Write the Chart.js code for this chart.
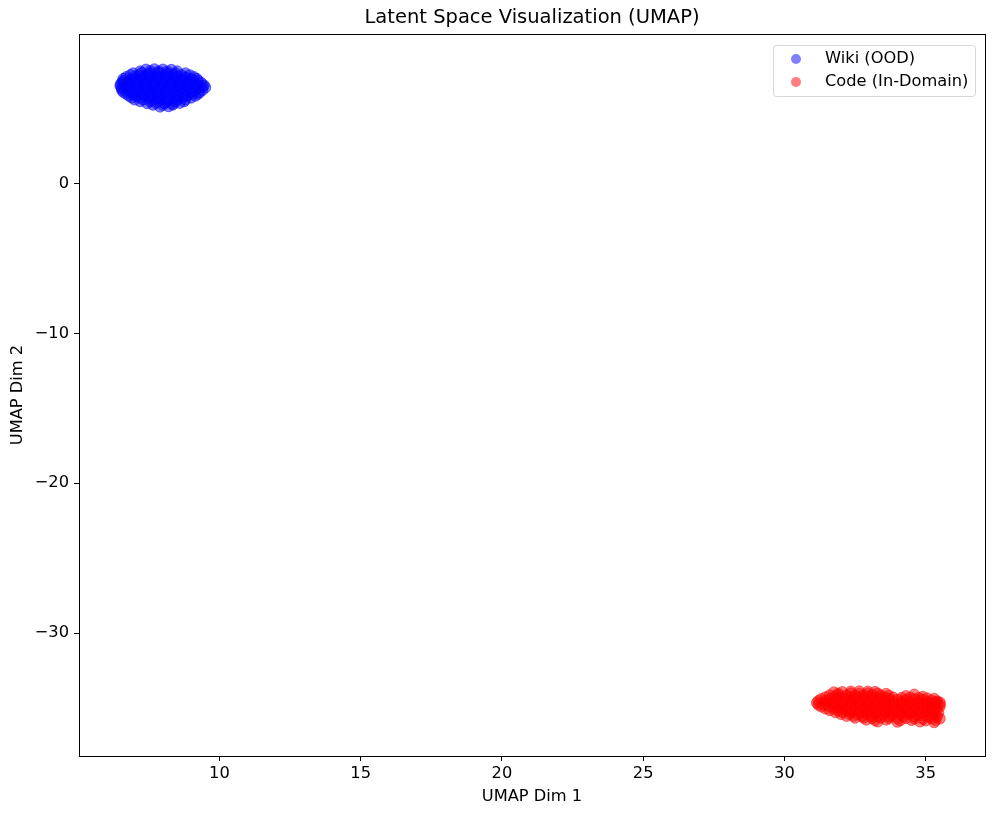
<!DOCTYPE html>
<html>
<head>
<meta charset="utf-8">
<script src="https://cdn.jsdelivr.net/npm/chart.js@4.4.1/dist/chart.umd.min.js"></script>
<style>
  html, body { margin: 0; padding: 0; background: #fff; }
  #wrap { width: 997px; height: 817px; }
</style>
</head>
<body>
<div id="wrap"><canvas id="umapChart"></canvas></div>
<script>
// Series names
const SERIES = ['Wiki (OOD)', 'Code (In-Domain)'];

// Wiki cluster (x, y)
const wikiPoints = [
    [7.4, 7.6], [7.7, 7.62], [8.0, 7.6], [8.3, 7.58],
    [7.2, 7.48], [7.55, 7.5], [7.85, 7.48], [8.15, 7.47], [8.5, 7.48],
    [6.95, 7.35], [7.25, 7.37], [7.55, 7.35], [7.85, 7.38], [8.15, 7.35], [8.45, 7.33], [8.8, 7.35],
    [6.85, 7.23], [7.15, 7.22], [7.45, 7.24], [7.75, 7.23], [8.05, 7.22], [8.35, 7.24], [8.65, 7.23], [8.95, 7.22],
    [6.7, 7.1], [7.0, 7.12], [7.3, 7.1], [7.6, 7.08], [7.9, 7.1], [8.2, 7.12], [8.5, 7.1], [8.8, 7.08], [9.1, 7.1],
    [6.6, 6.98], [6.9, 6.97], [7.2, 6.99], [7.5, 6.98], [7.8, 6.97], [8.1, 6.98], [8.4, 6.99], [8.7, 6.98], [9.0, 6.97], [9.2, 6.98],
    [6.6, 6.85], [6.85, 6.87], [7.15, 6.85], [7.45, 6.83], [7.75, 6.85], [8.05, 6.87], [8.35, 6.85], [8.65, 6.83], [8.95, 6.85], [9.25, 6.85],
    [6.55, 6.73], [6.75, 6.72], [7.05, 6.74], [7.35, 6.73], [7.65, 6.72], [7.95, 6.74], [8.25, 6.73], [8.55, 6.72], [8.85, 6.74], [9.1, 6.73], [9.35, 6.72],
    [6.5, 6.6], [6.8, 6.6], [7.1, 6.62], [7.4, 6.6], [7.7, 6.58], [8.0, 6.6], [8.3, 6.62], [8.6, 6.6], [8.9, 6.58], [9.2, 6.6], [9.45, 6.55],
    [6.5, 6.48], [6.7, 6.47], [7.0, 6.49], [7.3, 6.48], [7.6, 6.47], [7.9, 6.48], [8.2, 6.49], [8.5, 6.48], [8.8, 6.47], [9.1, 6.48], [9.4, 6.48],
    [6.55, 6.35], [6.85, 6.35], [7.15, 6.37], [7.45, 6.35], [7.75, 6.33], [8.05, 6.35], [8.35, 6.37], [8.65, 6.35], [8.95, 6.33], [9.25, 6.35], [9.5, 6.4],
    [6.55, 6.23], [6.75, 6.22], [7.05, 6.24], [7.35, 6.23], [7.65, 6.22], [7.95, 6.24], [8.25, 6.23], [8.55, 6.22], [8.85, 6.24], [9.15, 6.23], [9.4, 6.22],
    [6.6, 6.1], [6.9, 6.1], [7.2, 6.12], [7.5, 6.1], [7.8, 6.08], [8.1, 6.1], [8.4, 6.12], [8.7, 6.1], [9.0, 6.08], [9.3, 6.1],
    [6.7, 5.98], [6.95, 5.97], [7.25, 5.99], [7.55, 5.98], [7.85, 5.97], [8.15, 5.98], [8.45, 5.99], [8.75, 5.98], [9.05, 5.97], [9.25, 5.98],
    [6.8, 5.85], [7.05, 5.85], [7.35, 5.87], [7.65, 5.85], [7.95, 5.83], [8.25, 5.85], [8.55, 5.87], [8.85, 5.85], [9.15, 5.85],
    [6.9, 5.73], [7.2, 5.72], [7.5, 5.74], [7.8, 5.73], [8.1, 5.72], [8.4, 5.74], [8.7, 5.73], [9.0, 5.72],
    [7.0, 5.6], [7.3, 5.6], [7.6, 5.62], [7.9, 5.6], [8.2, 5.58], [8.5, 5.6], [8.8, 5.6],
    [7.2, 5.48], [7.55, 5.47], [7.85, 5.49], [8.15, 5.48], [8.45, 5.47], [8.75, 5.48],
    [7.45, 5.35], [7.75, 5.37], [8.05, 5.35], [8.35, 5.33], [8.6, 5.37],
    [7.65, 5.25], [8.0, 5.24], [8.35, 5.25],
    [7.9, 5.12], [8.2, 5.15]
];

// Code cluster (x, y)
const codePoints = [
    [31.75, -33.95], [32.05, -33.93], [32.35, -33.9], [32.65, -33.88], [32.95, -33.9], [33.2, -33.92],
    [31.9, -34.03], [32.35, -34.02], [32.65, -34.04], [32.95, -34.03], [33.3, -34.02], [33.6, -34.05], [34.6, -34.1],
    [31.6, -34.15], [31.9, -34.13], [32.2, -34.15], [32.5, -34.17], [32.8, -34.15], [33.1, -34.13], [33.4, -34.15], [33.7, -34.18], [34.3, -34.2], [34.9, -34.25],
    [31.45, -34.28], [31.75, -34.27], [32.05, -34.29], [32.35, -34.28], [32.65, -34.27], [32.95, -34.28], [33.25, -34.29], [33.55, -34.28], [33.85, -34.3], [34.15, -34.32], [34.45, -34.3], [34.75, -34.33], [35.05, -34.35], [35.3, -34.38],
    [31.3, -34.4], [31.6, -34.4], [31.9, -34.42], [32.2, -34.4], [32.5, -34.38], [32.8, -34.4], [33.1, -34.42], [33.4, -34.4], [33.7, -34.4], [34.0, -34.45], [34.3, -34.45], [34.6, -34.42], [34.9, -34.45], [35.2, -34.5], [35.4, -34.55],
    [31.2, -34.53], [31.45, -34.52], [31.75, -34.54], [32.05, -34.53], [32.35, -34.52], [32.65, -34.54], [32.95, -34.53], [33.25, -34.52], [33.55, -34.54], [33.85, -34.55], [34.15, -34.57], [34.45, -34.55], [34.75, -34.57], [35.05, -34.58], [35.35, -34.6], [35.5, -34.62],
    [31.15, -34.65], [31.45, -34.65], [31.75, -34.67], [32.05, -34.65], [32.35, -34.63], [32.65, -34.65], [32.95, -34.67], [33.25, -34.65], [33.55, -34.65], [33.85, -34.68], [34.15, -34.7], [34.45, -34.68], [34.75, -34.7], [35.05, -34.72], [35.35, -34.7], [35.5, -34.75],
    [31.2, -34.78], [31.45, -34.77], [31.75, -34.79], [32.05, -34.78], [32.35, -34.77], [32.65, -34.79], [32.95, -34.78], [33.25, -34.77], [33.55, -34.79], [33.85, -34.8], [34.15, -34.82], [34.45, -34.8], [34.75, -34.82], [35.05, -34.83], [35.35, -34.82],
    [31.3, -34.9], [31.6, -34.9], [31.9, -34.92], [32.2, -34.9], [32.5, -34.88], [32.8, -34.9], [33.1, -34.92], [33.4, -34.9], [33.7, -34.92], [34.0, -34.95], [34.3, -34.95], [34.6, -34.92], [34.9, -34.95], [35.2, -34.95], [35.5, -34.9],
    [31.45, -35.03], [31.75, -35.02], [32.05, -35.04], [32.35, -35.03], [32.65, -35.02], [32.95, -35.04], [33.25, -35.03], [33.55, -35.02], [33.85, -35.05], [34.15, -35.07], [34.45, -35.05], [34.75, -35.07], [35.05, -35.08], [35.4, -35.05],
    [31.6, -35.15], [31.9, -35.15], [32.2, -35.17], [32.5, -35.15], [32.8, -35.13], [33.1, -35.15], [33.4, -35.17], [33.7, -35.15], [34.0, -35.2], [34.3, -35.18], [34.6, -35.2], [35.0, -35.2], [35.3, -35.15],
    [31.8, -35.28], [32.05, -35.27], [32.35, -35.29], [32.65, -35.28], [32.95, -35.27], [33.25, -35.29], [33.55, -35.3], [33.85, -35.32], [34.15, -35.3], [34.45, -35.32], [34.8, -35.33], [35.15, -35.3], [35.45, -35.32],
    [32.0, -35.4], [32.3, -35.4], [32.6, -35.42], [32.9, -35.4], [33.2, -35.38], [33.5, -35.45], [33.8, -35.45], [34.1, -35.42], [34.4, -35.4], [34.7, -35.45], [35.0, -35.45], [35.3, -35.45],
    [32.2, -35.53], [32.45, -35.52], [32.75, -35.54], [33.05, -35.53], [33.3, -35.55], [33.7, -35.57], [34.2, -35.55], [34.6, -35.57], [35.1, -35.58], [35.4, -35.56],
    [32.5, -35.65], [32.8, -35.65], [33.1, -35.67], [33.4, -35.65], [33.7, -35.68], [34.0, -35.7], [34.3, -35.68], [34.6, -35.7], [34.9, -35.72], [35.2, -35.7], [35.5, -35.7],
    [32.9, -35.78], [33.2, -35.8], [33.6, -35.78], [34.1, -35.82], [34.5, -35.8], [35.0, -35.83], [35.35, -35.8],
    [33.3, -35.9], [34.0, -35.92], [34.8, -35.9], [35.3, -35.95]
];

// Axis ranges and ticks
const X_MIN = 5.03, X_MAX = 37.1;
const Y_MIN = -38.2, Y_MAX = 9.97;
const X_STEP = 5, Y_STEP = 10;

const FONT = "'DejaVu Sans', sans-serif";
const TEXT_SIZE = 16.25;
const BLUE = 'rgba(0, 0, 255, 0.5)';
const RED = 'rgba(255, 0, 0, 0.5)';

function toXY(arr) {
    return arr.map(function (p) { return { x: p[0], y: p[1] }; });
}

// matplotlib uses a real minus sign
function tickLabel(v) {
    return v < 0 ? '\u2212' + Math.abs(v) : String(v);
}

// frame round the plot area, like the axes spines
const framePlugin = {
    id: 'frame',
    afterDatasetsDraw(chart) {
        const a = chart.chartArea, ctx = chart.ctx;
        ctx.save();
        ctx.strokeStyle = '#000';
        ctx.lineWidth = 1;
        ctx.strokeRect(Math.round(a.left) + 0.5, Math.round(a.top) + 0.5,
            Math.round(a.right - a.left), Math.round(a.bottom - a.top));
        ctx.restore();
    }
};

// legend box in the upper right corner, inside the axes
const insideLegend = {
    id: 'insideLegend',
    afterDraw(chart) {
        const ctx = chart.ctx, a = chart.chartArea;
        const w = 202, h = 51;
        const x = Math.round(a.right) - 10 - w, y = Math.round(a.top) + 11;
        ctx.save();
        ctx.beginPath();
        ctx.roundRect(x + 0.5, y + 0.5, w, h, 3);
        ctx.fillStyle = 'rgba(255,255,255,0.8)';
        ctx.fill();
        ctx.strokeStyle = '#d6d6d6';
        ctx.lineWidth = 1;
        ctx.stroke();
        ctx.font = TEXT_SIZE + 'px ' + FONT;
        ctx.textBaseline = 'middle';
        chart.data.datasets.forEach(function (ds, i) {
            const cy = y + 14 + i * 23;
            ctx.beginPath();
            ctx.arc(x + 23, cy, 5, 0, Math.PI * 2);
            ctx.fillStyle = ds.backgroundColor;
            ctx.fill();
            ctx.fillStyle = '#000';
            ctx.fillText(ds.label, x + 52, cy);
        });
        ctx.restore();
    }
};

const ctx = document.getElementById('umapChart').getContext('2d');
const umapChart = new Chart(ctx, {
    type: 'scatter',
    data: {
        datasets: [
            {
                label: SERIES[0],
                data: toXY(wikiPoints),
                backgroundColor: BLUE,
                borderColor: BLUE,
                borderWidth: 1,
                pointRadius: 5.5,
            },
            {
                label: SERIES[1],
                data: toXY(codePoints),
                backgroundColor: RED,
                borderColor: RED,
                borderWidth: 1,
                pointRadius: 5.5,
            }
        ]
    },
    options: {
        responsive: true,
        maintainAspectRatio: false,
        animation: false,
        layout: { padding: { left: 0, right: 12, top: 0, bottom: 0 } },
        plugins: {
            legend: { display: false },
            tooltip: { enabled: false },
            title: {
                display: true,
                fullSize: false,
                text: 'Latent Space Visualization (UMAP)',
                color: '#000',
                font: { family: FONT, size: 19.5, weight: 'normal' },
                padding: { top: 6.3, bottom: 4.3 }
            }
        },
        scales: {
            x: {
                type: 'linear',
                min: X_MIN,
                max: X_MAX,
                afterFit(scale) { scale.height = 61; },
                ticks: {
                    stepSize: X_STEP,
                    includeBounds: false,
                    color: '#000',
                    padding: 3,
                    font: { family: FONT, size: TEXT_SIZE },
                    callback: tickLabel
                },
                grid: { drawOnChartArea: false, drawTicks: true, tickLength: 5, color: '#000' },
                border: { display: true, color: '#000' },
                title: {
                    display: true,
                    text: 'UMAP Dim 1',
                    color: '#000',
                    font: { family: FONT, size: TEXT_SIZE },
                    padding: { top: 0, bottom: 10 }
                }
            },
            y: {
                type: 'linear',
                min: Y_MIN,
                max: Y_MAX,
                afterFit(scale) { scale.width = 79; },
                ticks: {
                    stepSize: Y_STEP,
                    includeBounds: false,
                    color: '#000',
                    padding: 5,
                    font: { family: FONT, size: TEXT_SIZE },
                    callback: tickLabel
                },
                grid: { drawOnChartArea: false, drawTicks: true, tickLength: 5, color: '#000' },
                border: { display: true, color: '#000' },
                title: {
                    display: true,
                    text: 'UMAP Dim 2',
                    color: '#000',
                    font: { family: FONT, size: TEXT_SIZE },
                    padding: { top: 8, bottom: 0 }
                }
            }
        }
    },
    plugins: [framePlugin, insideLegend]
});
</script>
</body>
</html>
